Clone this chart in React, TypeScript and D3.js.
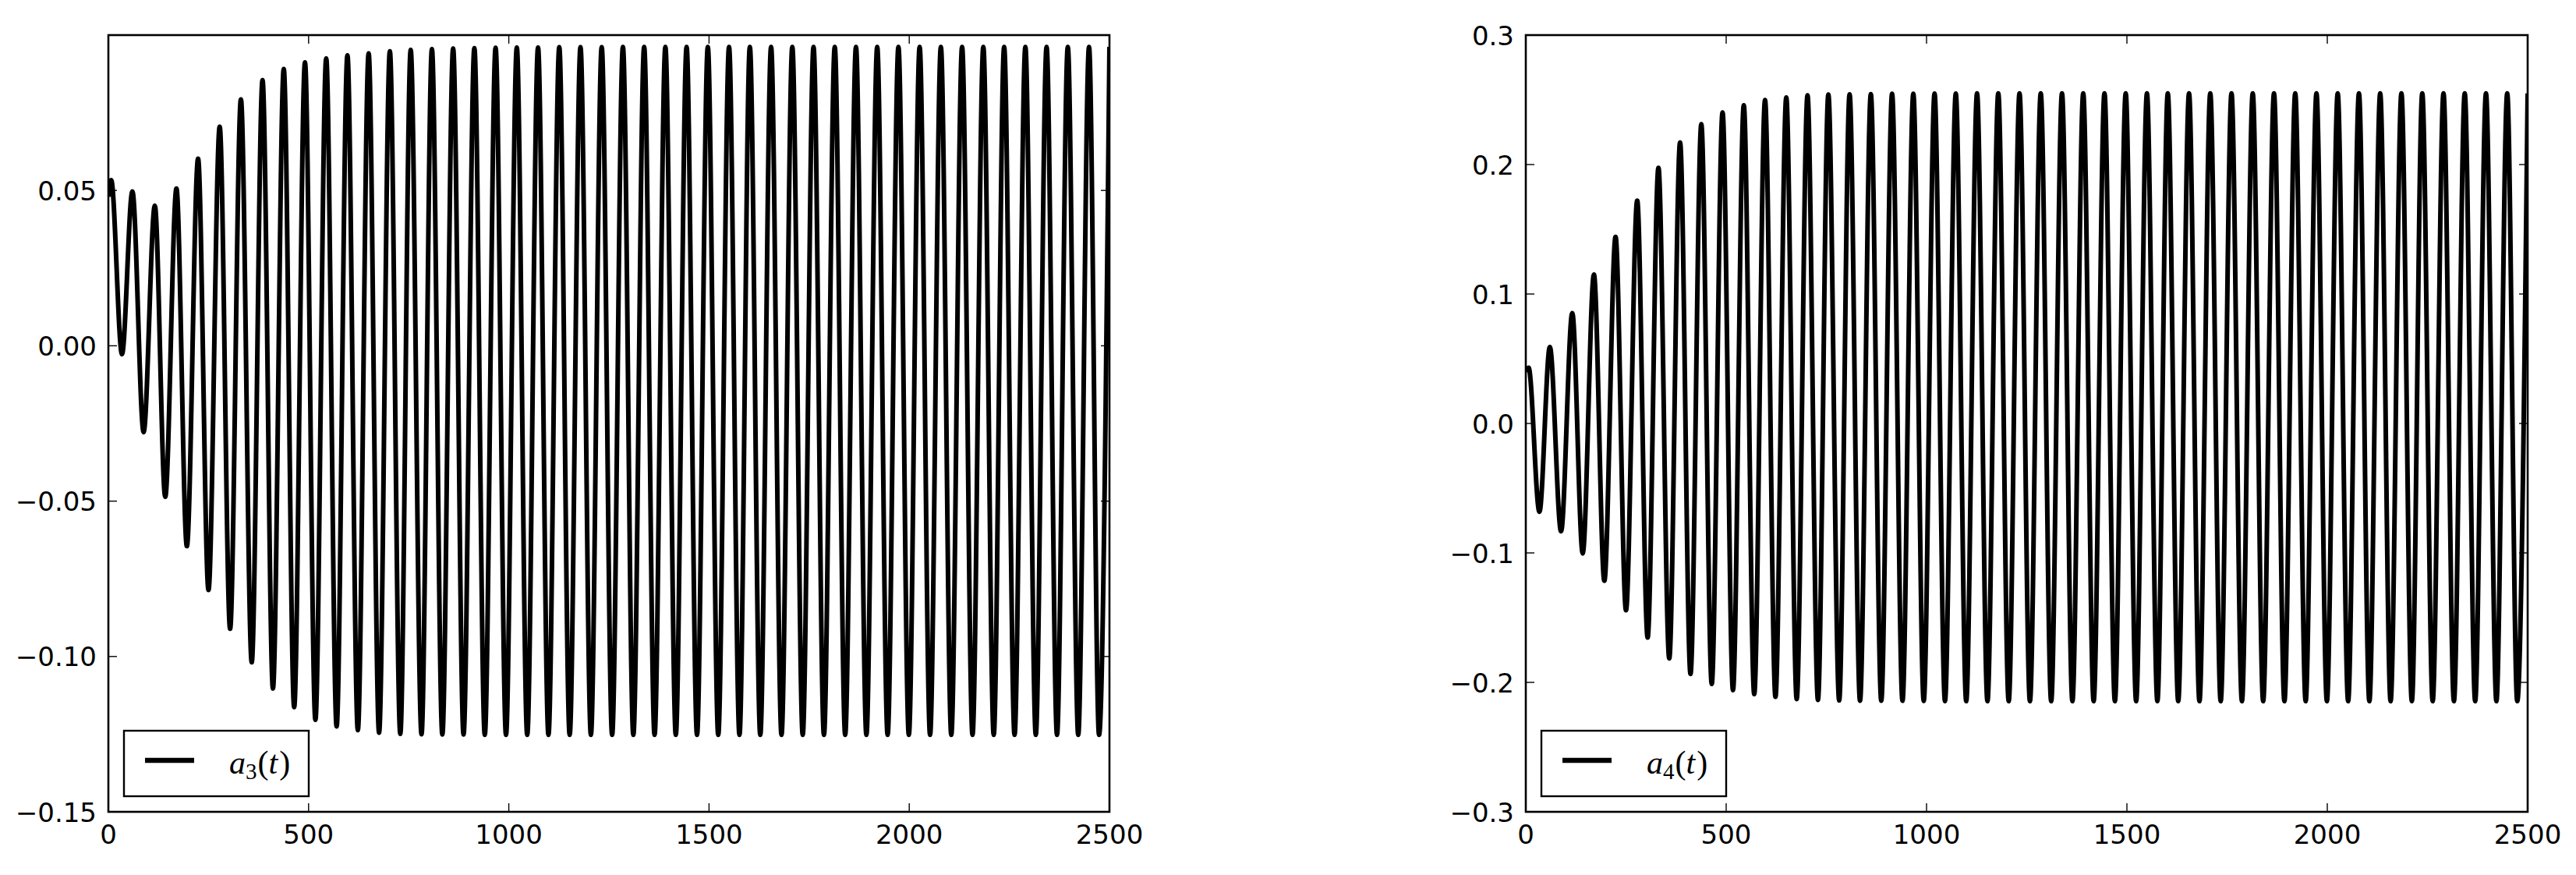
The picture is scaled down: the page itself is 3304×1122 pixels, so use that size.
import React from "react";
import * as d3 from "d3";

// times of the local maxima / minima (shared by both panels)
const T_PEAK = [
  7, 60, 116, 170, 224, 278, 331, 385, 438, 491,
  544, 597, 650, 703, 755, 808, 861, 914, 967, 1020,
  1073, 1126, 1179, 1232, 1285, 1338, 1391, 1444, 1497, 1550,
  1602, 1655, 1708, 1761, 1814, 1867, 1920, 1973, 2026, 2079,
  2132, 2185, 2237, 2290, 2343, 2396, 2449, 2500,
];
const T_TROUGH = [
  34, 88, 142, 196, 250, 304, 358, 411, 464, 517,
  570, 623, 676, 729, 782, 834, 887, 940, 993, 1046,
  1099, 1152, 1205, 1258, 1311, 1364, 1417, 1470, 1523, 1576,
  1628, 1681, 1734, 1787, 1840, 1893, 1946, 1999, 2052, 2105,
  2158, 2211, 2263, 2316, 2369, 2422, 2474,
];

// a3(t)
const A3_START = 0.048;
const A3_PEAKS = [
  0.0533, 0.0497, 0.0451, 0.0506, 0.0602, 0.0705, 0.0793, 0.0855, 0.0891, 0.0912,
  0.0925, 0.0935, 0.0941, 0.0948, 0.0952, 0.0955, 0.0957, 0.0958, 0.0959, 0.096,
  0.096, 0.0961, 0.0961, 0.0961, 0.0962, 0.0962, 0.0962, 0.0962, 0.0962, 0.0962,
  0.0962, 0.0962, 0.0962, 0.0962, 0.0962, 0.0962, 0.0962, 0.0962, 0.0962, 0.0962,
  0.0962, 0.0962, 0.0962, 0.0962, 0.0962, 0.0962, 0.0962, 0.0962,
];
const A3_TROUGHS = [
  -0.0027, -0.0278, -0.0486, -0.0645, -0.0786, -0.0911, -0.1019, -0.1103, -0.1163, -0.1204,
  -0.1225, -0.1237, -0.1245, -0.1249, -0.125, -0.1251, -0.1251, -0.1252, -0.1252, -0.1252,
  -0.1252, -0.1252, -0.1252, -0.1252, -0.1252, -0.1252, -0.1252, -0.1252, -0.1252, -0.1252,
  -0.1252, -0.1252, -0.1252, -0.1252, -0.1252, -0.1252, -0.1252, -0.1252, -0.1252, -0.1252,
  -0.1252, -0.1252, -0.1252, -0.1252, -0.1252, -0.1252, -0.1252,
];

// a4(t)
const A4_START = 0.04;
const A4_PEAKS = [
  0.043, 0.0591, 0.0853, 0.115, 0.1442, 0.1722, 0.1975, 0.217, 0.2311, 0.2402,
  0.2458, 0.2498, 0.2518, 0.2535, 0.254, 0.2542, 0.2544, 0.2546, 0.2547, 0.2548,
  0.2548, 0.2549, 0.2549, 0.2549, 0.2549, 0.2549, 0.2549, 0.2549, 0.2549, 0.2549,
  0.2549, 0.2549, 0.2549, 0.2549, 0.2549, 0.2549, 0.2549, 0.2549, 0.2549, 0.2549,
  0.2549, 0.2549, 0.2549, 0.2549, 0.2549, 0.2549, 0.2549, 0.2549,
];
const A4_TROUGHS = [
  -0.0682, -0.0833, -0.1004, -0.1215, -0.1443, -0.1654, -0.1815, -0.1935, -0.2012, -0.206,
  -0.2091, -0.2112, -0.2129, -0.2135, -0.2139, -0.2141, -0.2141, -0.2142, -0.2143, -0.2144,
  -0.2145, -0.2145, -0.2145, -0.2145, -0.2145, -0.2145, -0.2145, -0.2145, -0.2145, -0.2145,
  -0.2145, -0.2145, -0.2145, -0.2145, -0.2145, -0.2145, -0.2145, -0.2145, -0.2145, -0.2145,
  -0.2145, -0.2145, -0.2145, -0.2145, -0.2145, -0.2145, -0.2145,
];

const X_TICKS = [0, 500, 1000, 1500, 2000, 2500];
const A3_TICKS = [-0.15, -0.1, -0.05, 0, 0.05];
const A3_TICK_LABELS = ["\u22120.15", "\u22120.10", "\u22120.05", "0.00", "0.05"];
const A4_TICKS = [-0.3, -0.2, -0.1, 0, 0.1, 0.2, 0.3];
const A4_TICK_LABELS = ["\u22120.3", "\u22120.2", "\u22120.1", "0.0", "0.1", "0.2", "0.3"];

const W = 3304;
const H = 1122;
const FONT = "DejaVu Sans";

type Pt = { t: number; v: number };

function buildSeries(start: number, peaks: number[], troughs: number[]): Pt[] {
  const pts: Pt[] = [{ t: 0, v: start }];
  for (let i = 0; i < T_PEAK.length; i++) {
    pts.push({ t: T_PEAK[i], v: peaks[i] });
    if (i < T_TROUGH.length) pts.push({ t: T_TROUGH[i], v: troughs[i] });
  }
  return pts;
}

interface PanelProps {
  id: string;
  x0: number;
  x1: number;
  y0: number;
  y1: number;
  yDomain: [number, number];
  yTicks: number[];
  yLabels: string[];
  data: Pt[];
  sub: string;
}

function Panel({ id, x0, x1, y0, y1, yDomain, yTicks, yLabels, data, sub }: PanelProps) {
  const x = d3.scaleLinear().domain([0, 2500]).range([x0, x1]);
  const y = d3.scaleLinear().domain(yDomain).range([y1, y0]);
  const line = d3
    .line<Pt>()
    .x((d) => x(d.t))
    .y((d) => y(d.v))
    .curve(d3.curveMonotoneX);

  const tickLen = 11;
  const lx = x0 + 20;
  const lh = 84;
  const ly = y1 - 20 - lh;

  return (
    <g>
      <defs>
        <clipPath id={`clip-${id}`}>
          <rect x={x0} y={y0} width={x1 - x0} height={y1 - y0} />
        </clipPath>
      </defs>
      <path
        d={line(data) ?? ""}
        fill="none"
        stroke="#000"
        strokeWidth={6}
        strokeLinejoin="round"
        clipPath={`url(#clip-${id})`}
      />
      {/* ticks, classic style: inside, on all four sides */}
      {X_TICKS.map((t) => (
        <g key={`xt${t}`}>
          <line x1={x(t)} x2={x(t)} y1={y1} y2={y1 - tickLen} stroke="#000" strokeWidth={1.4} />
          <line x1={x(t)} x2={x(t)} y1={y0} y2={y0 + tickLen} stroke="#000" strokeWidth={1.4} />
          <text x={x(t)} y={y1 + 41} textAnchor="middle" fontFamily={FONT} fontSize={34}>
            {t}
          </text>
        </g>
      ))}
      {yTicks.map((v, i) => (
        <g key={`yt${i}`}>
          <line x1={x0} x2={x0 + tickLen} y1={y(v)} y2={y(v)} stroke="#000" strokeWidth={1.4} />
          <line x1={x1} x2={x1 - tickLen} y1={y(v)} y2={y(v)} stroke="#000" strokeWidth={1.4} />
          <text
            x={x0 - 15}
            y={y(v) + 12.5}
            textAnchor="end"
            fontFamily={FONT}
            fontSize={34}
          >
            {yLabels[i]}
          </text>
        </g>
      ))}
      <rect x={x0} y={y0} width={x1 - x0} height={y1 - y0} fill="none" stroke="#000" strokeWidth={2.6} />

      {/* legend */}
      <rect x={lx} y={ly} width={237} height={lh} fill="#fff" stroke="#000" strokeWidth={2.4} />
      <line x1={lx + 27} x2={lx + 90} y1={ly + 38} y2={ly + 38} stroke="#000" strokeWidth={6.5} />
      <text x={lx + 135} y={ly + 55} fontFamily="Liberation Serif" fontSize={42}>
        <tspan fontStyle="italic">a</tspan>
        <tspan fontSize={29} dy={7}>{sub}</tspan>
        <tspan dy={-7} dx={1}>(</tspan>
        <tspan fontStyle="italic">t</tspan>
        <tspan dx={2}>)</tspan>
      </text>
    </g>
  );
}

export default function App() {
  const a3 = buildSeries(A3_START, A3_PEAKS, A3_TROUGHS);
  const a4 = buildSeries(A4_START, A4_PEAKS, A4_TROUGHS);

  return (
    <svg
      width={W}
      height={H}
      viewBox={`0 0 ${W} ${H}`}
      style={{ position: "absolute", left: 0, top: 0, background: "#fff" }}
    >
      <rect x={0} y={0} width={W} height={H} fill="#fff" />
      <Panel
        id="a3"
        x0={139}
        x1={1423}
        y0={45}
        y1={1041}
        yDomain={[-0.15, 0.1]}
        yTicks={A3_TICKS}
        yLabels={A3_TICK_LABELS}
        data={a3}
        sub="3"
      />
      <Panel
        id="a4"
        x0={1957}
        x1={3242}
        y0={45}
        y1={1041}
        yDomain={[-0.3, 0.3]}
        yTicks={A4_TICKS}
        yLabels={A4_TICK_LABELS}
        data={a4}
        sub="4"
      />
    </svg>
  );
}
